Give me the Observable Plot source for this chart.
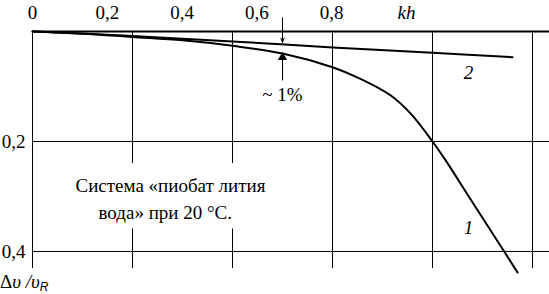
<!DOCTYPE html>
<html>
<head>
<meta charset="utf-8">
<script src="https://cdn.jsdelivr.net/npm/d3@7"></script>
<script src="https://cdn.jsdelivr.net/npm/@observablehq/plot@0.6"></script>
</head>
<body style="margin:0;background:#fff">
<div id="wrap" style="position:relative;width:549px;height:294px">
  <div id="ylab" style="position:absolute;left:0;top:272px;font-family:'Times New Roman',Tinos,serif;font-size:19px;line-height:19px;color:#000;white-space:nowrap;z-index:2">Δ<i>υ</i> <i>/υ</i><sub style="font-family:Arial,'Liberation Sans',sans-serif;font-size:12px;font-style:italic;vertical-align:-3px;line-height:0">R</sub></div>
  <div id="chart" style="position:absolute;left:0;top:0"></div>
</div>
<script>
// ---- data ----
const gridX = [0, 0.2, 0.4, 0.6, 0.8, 1.0];
const gridY = [0.2, 0.4];
const xTickValues = [0, 0.2, 0.4, 0.6, 0.8];
const xTickLabels = ["0", "0,2", "0,4", "0,6", "0,8"];
const xAxisLabel = "kh";
const yTickValues = [0.2, 0.4];
const yTickLabels = ["0,2", "0,4"];

// curve 1 (Δυ/υR vs kh)
const curve1X = [0, 0.1, 0.2, 0.3, 0.4, 0.5, 0.6, 0.656, 0.716, 0.756, 0.8, 0.826, 0.876, 0.944, 0.97];
const curve1Y = [0, 0.004, 0.010, 0.016, 0.026, 0.040, 0.065, 0.086, 0.116, 0.149, 0.200, 0.234, 0.305, 0.401, 0.438];
// curve 2
const curve2X = [0, 0.2, 0.4, 0.6, 0.8, 0.96];
const curve2Y = [0, 0.008, 0.018, 0.029, 0.0387, 0.0467];

const curveLabels = ["1", "2"];
const noteLines = ["Система «пиобат лития", "вода» при 20 °С."];
const diffLabel = "~ 1%";

// ---- layout constants ----
const labelSpacing = 0.748; // the printed top labels are spaced tighter than the grid
const SERIF = "Times New Roman, Tinos, serif";

const c1 = curve1X.map((x, i) => ({x, y: curve1Y[i]}));
const c2 = curve2X.map((x, i) => ({x, y: curve2Y[i]}));
const xt = xTickValues.map((v, i) => ({v, label: xTickLabels[i]}));
const yt = yTickValues.map((v, i) => ({v, label: yTickLabels[i]}));

const T = {fontFamily: SERIF, fontSize: 19, fill: "#000"};

const chart = Plot.plot({
  width: 549,
  height: 294,
  marginLeft: 32,
  marginRight: 0,
  marginTop: 31,
  marginBottom: 26,
  x: {domain: [0, 1.034], axis: null},
  y: {domain: [0, 0.431], reverse: true, axis: null},
  marks: [
    Plot.ruleX(gridX, {x: d => d, y1: 0, y2: 0.431, stroke: "#000", strokeWidth: 1}),
    Plot.ruleY(gridY, {y: d => d, x1: 0, x2: 1.034, stroke: "#000", strokeWidth: 1}),
    Plot.rect([0], {x1: 0.1, x2: 0.5, y1: 0.24, y2: 0.359, fill: "#fff"}),
    Plot.ruleY([0], {x1: 0, x2: 1.034, stroke: "#000", strokeWidth: 2}),
    Plot.line(c2, {x: "x", y: "y", stroke: "#000", strokeWidth: 2, curve: "catmull-rom"}),
    Plot.line(c1, {x: "x", y: "y", stroke: "#000", strokeWidth: 2, curve: "catmull-rom"}),
    Plot.arrow([0], {x1: 0.5, x2: 0.5, y1: -0.025, y2: 0.020, stroke: "#000", strokeWidth: 1, headLength: 7, headAngle: 40}),
    Plot.link([0], {x1: 0.5, x2: 0.5, y1: 0.089, y2: 0.045, stroke: "#000", strokeWidth: 1}),
    Plot.dot([0], {x: 0.5, y: 0.047, symbol: "triangle", r: 3.5, fill: "#000", stroke: "none"}),
    Plot.text([diffLabel], {...T, x: 0.5, y: 0.116, text: d => d}),
    Plot.text(xt, {...T, x: d => d.v * labelSpacing, y: 0, dy: -19, text: "label"}),
    Plot.text([xAxisLabel], {...T, x: 1.0 * labelSpacing, y: 0, dy: -19, text: d => d, fontStyle: "italic"}),
    Plot.text(yt, {...T, x: 0, y: "v", dx: -7, textAnchor: "end", text: "label"}),
    Plot.text([noteLines[0]], {...T, x: 0.086, y: 0.28, text: d => d, textAnchor: "start"}),
    Plot.text([noteLines[1]], {...T, x: 0.132, y: 0.329, text: d => d, textAnchor: "start"}),
    Plot.text([curveLabels[1]], {...T, x: 0.872, y: 0.076, text: d => d, fontStyle: "italic"}),
    Plot.text([curveLabels[0]], {...T, x: 0.872, y: 0.358, text: d => d, fontStyle: "italic"})
  ]
});
document.getElementById("chart").appendChild(chart);
</script>
</body>
</html>
